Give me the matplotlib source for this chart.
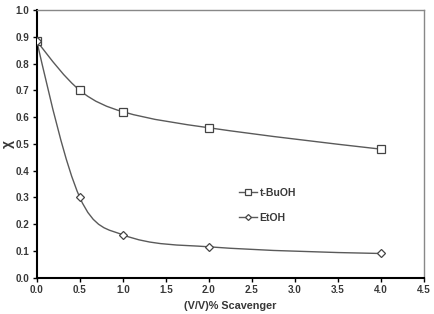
import matplotlib
matplotlib.use("Agg")
import matplotlib.pyplot as plt
import numpy as np
from matplotlib.path import Path
from matplotlib.patches import PathPatch
from matplotlib.lines import Line2D

plt.rcParams['font.family'] = ['Liberation Sans', 'DejaVu Sans']

x_vals = [0.0, 0.5, 1.0, 2.0, 4.0]
tbuoh = [0.885, 0.70, 0.62, 0.56, 0.48]
etoh = [0.885, 0.30, 0.16, 0.115, 0.09]
x_ticks = [0.0, 0.5, 1.0, 1.5, 2.0, 2.5, 3.0, 3.5, 4.0, 4.5]
y_ticks = [0.0, 0.1, 0.2, 0.3, 0.4, 0.5, 0.6, 0.7, 0.8, 0.9, 1.0]

fig = plt.figure(figsize=(4.34, 3.14), dpi=100)
ax = fig.add_axes([0.0846, 0.116, 0.977 - 0.0846, 0.968 - 0.116])

line_col = '#5a5a5a'
txt_col = '#383838'

def smooth_path(xs, ys):
    xs = np.asarray(xs, float)
    ys = np.asarray(ys, float)
    n = len(xs)
    m = np.zeros(n)
    for i in range(1, n - 1):
        m[i] = (ys[i + 1] - ys[i - 1]) / (xs[i + 1] - xs[i - 1])
    d0 = (ys[1] - ys[0]) / (xs[1] - xs[0])
    dn = (ys[-1] - ys[-2]) / (xs[-1] - xs[-2])
    m[0] = (3 * d0 - m[1]) / 2
    m[-1] = (3 * dn - m[-2]) / 2
    verts = [(xs[0], ys[0])]
    codes = [Path.MOVETO]
    for i in range(n - 1):
        h = xs[i + 1] - xs[i]
        verts += [(xs[i] + h / 3, ys[i] + m[i] * h / 3),
                  (xs[i + 1] - h / 3, ys[i + 1] - m[i + 1] * h / 3),
                  (xs[i + 1], ys[i + 1])]
        codes += [Path.CURVE4] * 3
    return Path(verts, codes)

for ys in (tbuoh, etoh):
    ax.add_patch(PathPatch(smooth_path(x_vals, ys), fill=False, edgecolor=line_col, lw=1.0, zorder=2))

ax.plot(x_vals, tbuoh, ls='none', marker='s', ms=6, mfc='white', mec='#444444', mew=0.9, zorder=3)
ax.plot(x_vals, etoh, ls='none', marker='D', ms=4, mfc='white', mec='#444444', mew=0.9, zorder=3)

ax.set_xlim(0, 4.5)
ax.set_ylim(0, 1.0)
ax.set_xticks(x_ticks)
ax.set_yticks(y_ticks)
ax.set_xticklabels([f"{v:.1f}" for v in x_ticks], fontsize=7.1, fontweight='bold', color=txt_col)
ax.set_yticklabels([f"{v:.1f}" for v in y_ticks], fontsize=7.1, fontweight='bold', color=txt_col)
ax.tick_params(direction='out', length=3, width=1, color='black', pad=2.5)

for s in ('left', 'bottom'):
    ax.spines[s].set_color('black')
    ax.spines[s].set_linewidth(1.5)
for s in ('top', 'right'):
    ax.spines[s].set_color('#888888')
    ax.spines[s].set_linewidth(1.0)

ax.set_xlabel('(V/V)% Scavenger', fontsize=7.8, fontweight='bold', color=txt_col, labelpad=4)
ax.set_ylabel('χ', fontsize=10, fontweight='bold', color=txt_col)
ax.yaxis.label.set_va('center')
ax.yaxis.set_label_coords(-0.074, 0.5)

handles = [
    Line2D([], [], color=line_col, lw=1.0, marker='s', ms=4, mfc='white', mec='#444444', mew=0.9),
    Line2D([], [], color=line_col, lw=1.0, marker='D', ms=3, mfc='white', mec='#444444', mew=0.9),
]
leg = ax.legend(handles, ['t-BuOH', 'EtOH'], loc='center left', bbox_to_anchor=(0.499, 0.27),
                frameon=False, handlelength=1.65, handletextpad=0.3, labelspacing=1.45,
                prop={'size': 7.5, 'weight': 'bold'})
for t in leg.get_texts():
    t.set_color(txt_col)

fig.savefig('out.png', dpi=100)
